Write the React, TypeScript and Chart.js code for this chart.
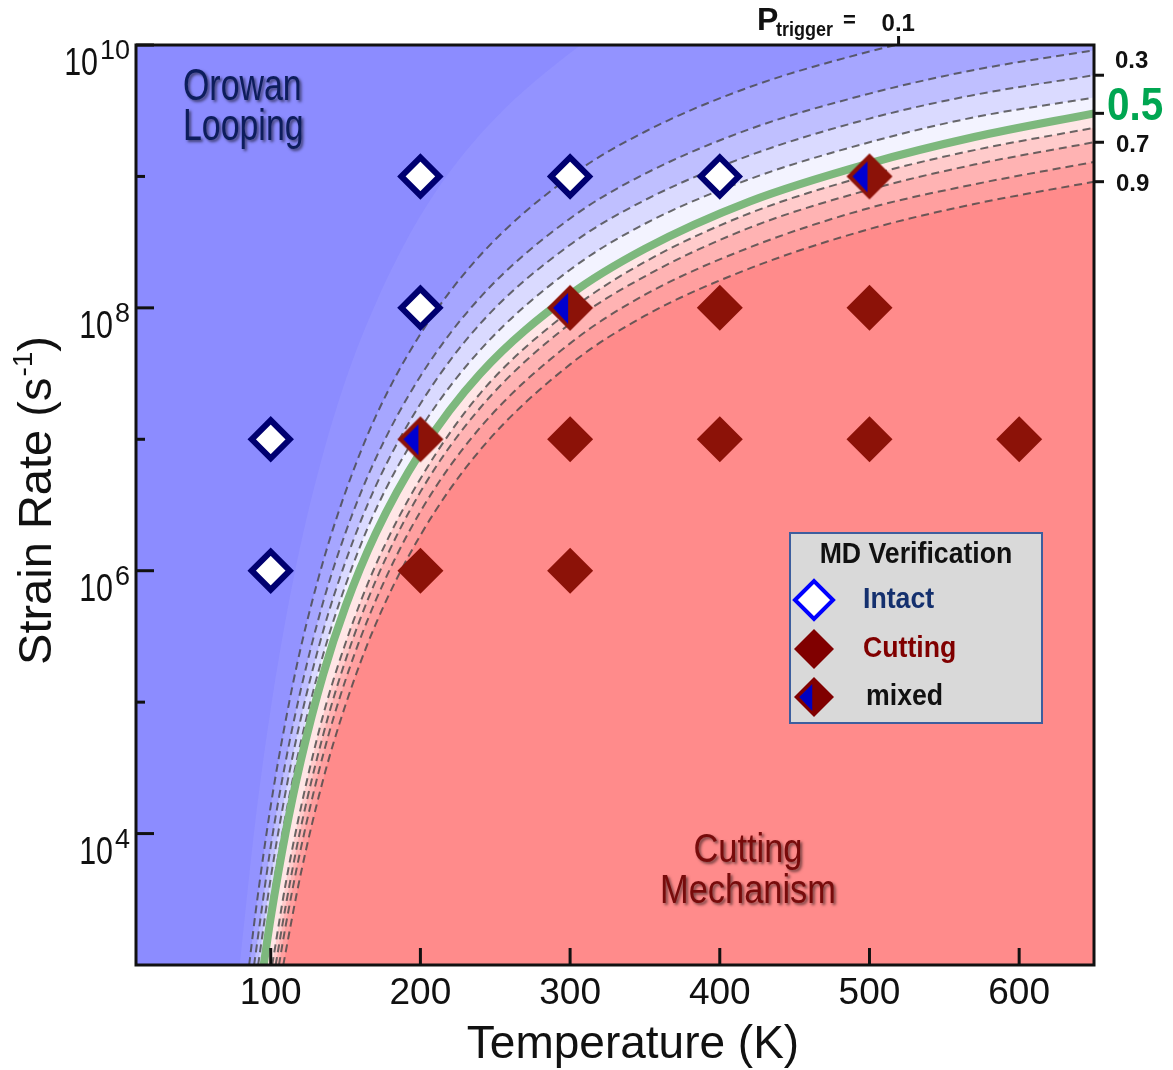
import React, { useEffect, useRef } from "react";
import { Chart, registerables } from "chart.js";

Chart.register(...registerables);

// ---------------- data ----------------
// Temperature grid (K) at which the iso-probability curves were read
const T_GRID = [90, 100, 110, 120, 135, 150, 170, 200, 240, 300, 350, 420, 500, 570, 650];
// trigger-probability levels of the curves (0.02 = outer edge of colour map)
const P_LEVELS = [0.02, 0.1, 0.2, 0.3, 0.4, 0.5, 0.6, 0.7, 0.8, 0.9];
// temperature where each curve leaves the bottom of the plot (strain rate 1e3)
const ONSET_T = [79.3, 85.6, 88.9, 91.6, 93.8, 95.3, 101, 103.3, 105.5, 108.4];
// log10 strain rate of each curve along T_GRID
const LOG_P002 = [4.12, 4.95, 5.63, 6.2, 6.89, 7.45, 8.03, 8.7, 9.32, 9.94, 10.3, 10.66, 10.94, 11.13, 11.29];
const LOG_P01 = [3.41, 4.21, 4.86, 5.41, 6.07, 6.6, 7.17, 7.8, 8.4, 9.0, 9.34, 9.68, 9.95, 10.13, 10.29];
const LOG_P02 = [null, 3.9, 4.55, 5.09, 5.76, 6.29, 6.85, 7.48, 8.08, 8.68, 9.02, 9.36, 9.63, 9.81, 9.96];
const LOG_P03 = [null, 3.66, 4.32, 4.87, 5.54, 6.07, 6.64, 7.27, 7.88, 8.48, 8.82, 9.16, 9.44, 9.62, 9.77];
const LOG_P04 = [null, 3.48, 4.14, 4.69, 5.36, 5.89, 6.46, 7.08, 7.68, 8.29, 8.64, 8.98, 9.26, 9.45, 9.6];
const LOG_P05 = [null, 3.36, 4.01, 4.55, 5.21, 5.73, 6.28, 6.9, 7.5, 8.1, 8.45, 8.81, 9.1, 9.3, 9.48];
const LOG_P06 = [null, null, 3.62, 4.19, 4.9, 5.45, 6.04, 6.7, 7.35, 7.98, 8.35, 8.72, 9.01, 9.2, 9.37];
const LOG_P07 = [null, null, 3.45, 4.04, 4.75, 5.32, 5.92, 6.6, 7.24, 7.88, 8.24, 8.61, 8.9, 9.09, 9.26];
const LOG_P08 = [null, null, 3.3, 3.88, 4.6, 5.17, 5.77, 6.45, 7.09, 7.73, 8.1, 8.46, 8.76, 8.94, 9.11];
const LOG_P09 = [null, null, 3.1, 3.69, 4.41, 4.98, 5.59, 6.27, 6.92, 7.57, 7.94, 8.3, 8.6, 8.79, 8.96];
const CURVE_LOGS = [LOG_P002, LOG_P01, LOG_P02, LOG_P03, LOG_P04, LOG_P05, LOG_P06, LOG_P07, LOG_P08, LOG_P09];

// MD verification points
const INTACT_T = [200, 300, 400, 200, 100, 100];
const INTACT_RATE = [1e9, 1e9, 1e9, 1e8, 1e7, 1e6];
const CUTTING_T = [400, 500, 300, 400, 500, 600, 200, 300];
const CUTTING_RATE = [1e8, 1e8, 1e7, 1e7, 1e7, 1e7, 1e6, 1e6];
const MIXED_T = [500, 300, 200];
const MIXED_RATE = [1e9, 1e8, 1e7];

// axes
const X_TICKS = [100, 200, 300, 400, 500, 600];
const Y_TICK_EXP = [4, 5, 6, 7, 8, 9, 10];
const Y_LABEL_EXP = [4, 6, 8, 10];
const RIGHT_LABELS = ["0.3", "0.5", "0.7", "0.9"];
const LEGEND_LABELS = ["Intact", "Cutting", "mixed"];

// ---------------- styles ----------------
const BLUE = "#8c8cff";
const BAND_COLORS = ["#9393ff", "#a6a6ff", "#bfbfff", "#dadaff", "#f3f3ff", "#ffe6e6", "#ffcbcb", "#ffb3b3", "#ff9f9f", "#ff8b8b"];
const FONT = '"Liberation Sans", Arial, Helvetica, sans-serif';
const NAVY = "#000070";
const DARKRED = "#8c1208";

function txt(ctx: CanvasRenderingContext2D, s: string, x: number, y: number, size: number, o: any = {}) {
  ctx.save();
  ctx.font = `${o.bold ? "bold " : ""}${size}px ${FONT}`;
  ctx.fillStyle = o.color || "#111";
  ctx.textAlign = o.align || "left";
  ctx.textBaseline = "alphabetic";
  if (o.shadow) {
    ctx.shadowColor = "rgba(0,0,0,0.55)";
    ctx.shadowBlur = 3;
    ctx.shadowOffsetX = 2;
    ctx.shadowOffsetY = 2;
  }
  ctx.translate(x, y);
  ctx.scale(o.sx || 1, 1);
  ctx.fillText(s, 0, 0);
  const w = ctx.measureText(s).width * (o.sx || 1);
  ctx.restore();
  return w;
}

function measure(ctx: CanvasRenderingContext2D, s: string, size: number, bold = false, sx = 1) {
  ctx.save();
  ctx.font = `${bold ? "bold " : ""}${size}px ${FONT}`;
  const w = ctx.measureText(s).width * sx;
  ctx.restore();
  return w;
}

function diamondPath(ctx: CanvasRenderingContext2D, cx: number, cy: number, r: number) {
  ctx.beginPath();
  ctx.moveTo(cx - r, cy);
  ctx.lineTo(cx, cy - r);
  ctx.lineTo(cx + r, cy);
  ctx.lineTo(cx, cy + r);
  ctx.closePath();
}

function drawMixed(ctx: CanvasRenderingContext2D, cx: number, cy: number, r: number, red: string, blue: string) {
  ctx.save();
  diamondPath(ctx, cx, cy, r);
  ctx.fillStyle = red;
  ctx.fill();
  const k = r / 23;
  ctx.beginPath();
  ctx.moveTo(cx - 17 * k, cy);
  ctx.lineTo(cx - 2 * k, cy - 15 * k);
  ctx.lineTo(cx - 2 * k, cy + 16 * k);
  ctx.closePath();
  ctx.fillStyle = blue;
  ctx.fill();
  ctx.restore();
}

function curvePoints(onset: number, logs: (number | null)[]) {
  const pts: { x: number; y: number }[] = [{ x: onset, y: 1e3 }];
  T_GRID.forEach((t, i) => {
    const v = logs[i];
    if (v !== null && v !== undefined && t > onset) pts.push({ x: t, y: Math.pow(10, v) });
  });
  return pts;
}

const decor = {
  id: "decor",
  beforeDraw(chart: any) {
    const { ctx, chartArea: a } = chart;
    ctx.save();
    ctx.fillStyle = BLUE;
    ctx.fillRect(a.left, a.top, a.right - a.left, a.bottom - a.top);
    ctx.restore();
  },
  afterDatasetsDraw(chart: any) {
    const { ctx, chartArea: a } = chart;
    const xs = chart.scales.x;
    const ys = chart.scales.y;
    ctx.save();
    ctx.strokeStyle = "#111";
    ctx.lineWidth = 3;
    ctx.lineCap = "butt";
    // frame
    ctx.strokeRect(a.left, a.top, a.right - a.left, a.bottom - a.top);
    // x ticks (inward)
    X_TICKS.forEach((t) => {
      const x = xs.getPixelForValue(t);
      ctx.beginPath();
      ctx.moveTo(x, a.bottom);
      ctx.lineTo(x, a.bottom - 17);
      ctx.stroke();
      txt(ctx, String(t), x, a.bottom + 39, 37, { align: "center" });
    });
    // y ticks (inward)
    Y_TICK_EXP.forEach((e) => {
      const y = ys.getPixelForValue(Math.pow(10, e));
      const len = e % 2 === 0 ? 18 : 9;
      ctx.beginPath();
      ctx.moveTo(a.left, y);
      ctx.lineTo(a.left + len, y);
      ctx.stroke();
    });
    Y_LABEL_EXP.forEach((e) => {
      const y = ys.getPixelForValue(Math.pow(10, e));
      const sup = String(e);
      const R = a.left - 6;
      const sw = measure(ctx, sup, 27);
      txt(ctx, sup, R - sw, y + 14, 27);
      txt(ctx, "10", R - sw - 2, y + 30, 39, { align: "right", sx: 0.78 });
    });
    // right-edge ticks for labelled probability curves
    const labelIdx = RIGHT_LABELS.map((s) => P_LEVELS.indexOf(parseFloat(s)));
    labelIdx.forEach((di) => {
      const meta = chart.getDatasetMeta(di);
      const last = meta.data[meta.data.length - 1];
      ctx.beginPath();
      ctx.moveTo(a.right, last.y);
      ctx.lineTo(a.right + 10, last.y);
      ctx.stroke();
    });
    // top tick where P = 0.1 leaves the plot
    const m01 = chart.getDatasetMeta(P_LEVELS.indexOf(0.1));
    let xTop = a.right;
    for (let i = 1; i < m01.data.length; i++) {
      const p0 = m01.data[i - 1], p1 = m01.data[i];
      if (p0.y >= a.top && p1.y < a.top) {
        xTop = p0.x + ((p0.y - a.top) / (p0.y - p1.y)) * (p1.x - p0.x);
        break;
      }
    }
    ctx.beginPath();
    ctx.moveTo(xTop, a.top);
    ctx.lineTo(xTop, a.top - 9);
    ctx.stroke();
    ctx.restore();

    // probability labels
    txt(ctx, "P", 757, 30, 32, { bold: true });
    txt(ctx, "trigger", 776, 36, 20, { bold: true, sx: 0.9 });
    txt(ctx, "=", 843, 27, 22, { bold: true });
    txt(ctx, "0.1", xTop - 17, 31, 24, { bold: true });
    txt(ctx, RIGHT_LABELS[0], 1115, 68, 24, { bold: true });
    txt(ctx, RIGHT_LABELS[1], 1107, 120, 47, { bold: true, sx: 0.86, color: "#00a651" });
    txt(ctx, RIGHT_LABELS[2], 1116, 152, 24, { bold: true });
    txt(ctx, RIGHT_LABELS[3], 1116, 191, 24, { bold: true });

    // region labels
    txt(ctx, "Orowan", 183, 100, 44, { sx: 0.77, color: "#0d1d5c", shadow: true });
    txt(ctx, "Looping", 183, 140, 44, { sx: 0.77, color: "#0d1d5c", shadow: true });
    txt(ctx, "Cutting", 748, 862, 40, { sx: 0.86, color: "#780b0b", shadow: true, align: "center" });
    txt(ctx, "Mechanism", 748, 903, 40, { sx: 0.86, color: "#780b0b", shadow: true, align: "center" });

    // axis titles
    txt(ctx, "Temperature (K)", 633, 1058, 46, { align: "center" });
    ctx.save();
    ctx.translate(51, 501);
    ctx.rotate(-Math.PI / 2);
    const w1 = measure(ctx, "Strain Rate (s", 47);
    const w2 = measure(ctx, "-1", 28);
    const w3 = measure(ctx, ")", 47);
    const x0 = -(w1 + w2 + w3) / 2;
    txt(ctx, "Strain Rate (s", x0, 0, 47);
    txt(ctx, "-1", x0 + w1 + 1, -19, 28);
    txt(ctx, ")", x0 + w1 + w2 + 1, 0, 47);
    ctx.restore();

    // legend box
    ctx.save();
    ctx.fillStyle = "#d9d9d9";
    ctx.fillRect(790, 533, 252, 190);
    ctx.strokeStyle = "#3d5e9e";
    ctx.lineWidth = 2;
    ctx.strokeRect(790, 533, 252, 190);
    txt(ctx, "MD Verification", 916, 563, 29, { bold: true, sx: 0.92, align: "center" });
    // intact
    diamondPath(ctx, 814, 600, 19);
    ctx.fillStyle = "#fff";
    ctx.fill();
    ctx.strokeStyle = "#0000ff";
    ctx.lineWidth = 4;
    ctx.stroke();
    txt(ctx, LEGEND_LABELS[0], 863, 608, 29, { bold: true, sx: 0.92, color: "#14306e" });
    // cutting
    diamondPath(ctx, 814, 649, 20);
    ctx.fillStyle = "#800000";
    ctx.fill();
    txt(ctx, LEGEND_LABELS[1], 863, 657, 29, { bold: true, sx: 0.92, color: "#800000" });
    // mixed
    drawMixed(ctx, 814, 697, 20, "#800000", "#0000c0");
    txt(ctx, LEGEND_LABELS[2], 866, 705, 29, { bold: true, sx: 0.92, color: "#111" });
    ctx.restore();
  },
};

export default function App() {
  const ref = useRef<HTMLCanvasElement>(null);
  useEffect(() => {
    const img = document.createElement("canvas");
    img.width = 50;
    img.height = 50;
    const ictx = img.getContext("2d")!;
    drawMixed(ictx, 25, 25, 23, DARKRED, "#0000d0");

    const curveSets = P_LEVELS.map((p, i) => {
      const isGreen = p === 0.5;
      const isEdge = p === 0.02;
      return {
        label: `P=${p}`,
        data: curvePoints(ONSET_T[i], CURVE_LOGS[i]),
        borderColor: isEdge ? "rgba(0,0,0,0)" : isGreen ? "#7db87d" : "rgba(70,70,70,0.8)",
        borderWidth: isEdge ? 0 : isGreen ? 8 : 2,
        borderDash: isGreen || isEdge ? [] : [8, 5],
        backgroundColor: BAND_COLORS[i],
        fill: "start",
        pointRadius: 0,
        cubicInterpolationMode: "monotone",
        order: 20 - i,
      };
    });

    const chart = new Chart(ref.current!, {
      type: "line",
      data: {
        datasets: [
          ...curveSets,
          {
            label: "Intact",
            data: INTACT_T.map((t, i) => ({ x: t, y: INTACT_RATE[i] })),
            showLine: false,
            pointStyle: "rectRot",
            pointRadius: 19,
            pointBorderWidth: 6,
            pointBorderColor: NAVY,
            pointBackgroundColor: "#ffffff",
            order: 0,
          },
          {
            label: "Cutting",
            data: CUTTING_T.map((t, i) => ({ x: t, y: CUTTING_RATE[i] })),
            showLine: false,
            pointStyle: "rectRot",
            pointRadius: 23,
            pointBorderWidth: 0,
            pointBorderColor: DARKRED,
            pointBackgroundColor: DARKRED,
            order: 0,
          },
          {
            label: "mixed",
            data: MIXED_T.map((t, i) => ({ x: t, y: MIXED_RATE[i] })),
            showLine: false,
            pointStyle: img,
            pointRadius: 23,
            order: 0,
          },
        ] as any,
      },
      options: {
        responsive: false,
        animation: false,
        devicePixelRatio: 1,
        layout: { padding: { left: 136, top: 45, right: 79, bottom: 105 } },
        scales: {
          x: { type: "linear", min: 10, max: 650, display: false },
          y: { type: "logarithmic", min: 1e3, max: 1e10, display: false },
        },
        plugins: {
          legend: { display: false },
          tooltip: { enabled: false },
          filler: { drawTime: "beforeDatasetsDraw" },
        },
        events: [],
      } as any,
      plugins: [decor],
    });
    return () => chart.destroy();
  }, []);
  return (
    <div style={{ position: "absolute", left: 0, top: 0, width: 1173, height: 1070, background: "#fff" }}>
      <canvas ref={ref} width={1173} height={1070} style={{ display: "block" }} />
    </div>
  );
}
